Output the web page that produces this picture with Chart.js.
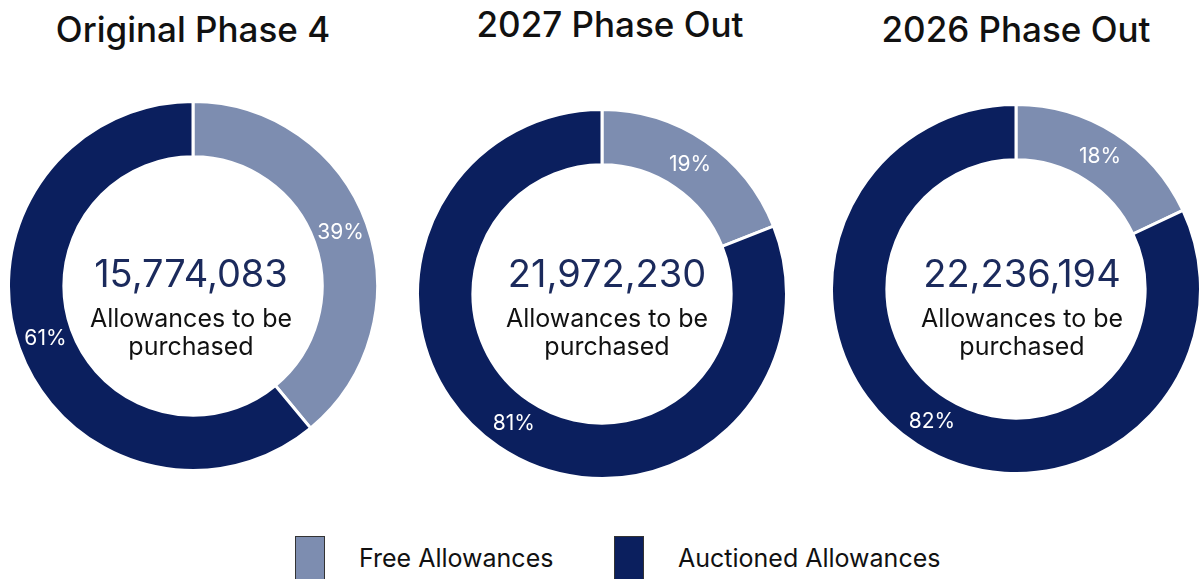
<!DOCTYPE html>
<html>
<head>
<meta charset="utf-8">
<script src="https://cdn.jsdelivr.net/npm/chart.js@4.4.1/dist/chart.umd.min.js"></script>
<style>
  body { margin: 0; background: #fff; width: 1202px; height: 579px; overflow: hidden; position: relative; font-family: Inter, "Noto Sans", sans-serif; }
  .title { position: absolute; width: 400px; text-align: center; font-size: 35px; line-height: 35px; font-weight: 500; color: #111; }
  .donut { position: absolute; width: 372px; height: 372px; }
  .legend { position: absolute; top: 536px; display: flex; align-items: center; font-size: 25px; color: #111; }
  .legend span.box { display: inline-block; width: 28px; height: 42px; border: 1px solid #333; margin-right: 34px; }
</style>
</head>
<body>
<div id="titles"></div>
<canvas id="donut0" class="donut"></canvas>
<canvas id="donut1" class="donut"></canvas>
<canvas id="donut2" class="donut"></canvas>
<div id="legend"></div>
<script>
const titles = ['Original Phase 4', '2027 Phase Out', '2026 Phase Out'];
const categories = ['Free Allowances', 'Auctioned Allowances'];
const freeShare = [39, 19, 18];
const auctionedShare = [61, 81, 82];
const toPurchase = [15774083, 21972230, 22236194];
const centerLabel = ['Allowances to be', 'purchased'];
const colors = ['#7d8db0', '#0b1f5e'];

// page layout: donut centres, title tops, centre text offsets
const centers = [[193, 286], [602, 294], [1016, 289]];
const titleTop = [12, 7, 12];
const textShiftX = [-2, 5, 6];
const textBaseline = [287, 327, 355];

const centerText = {
  id: 'centerText',
  afterDatasetsDraw(chart, args, opts) {
    const ctx = chart.ctx;
    const meta = chart.getDatasetMeta(0);
    ctx.save();
    ctx.textAlign = 'center';
    ctx.textBaseline = 'middle';
    ctx.fillStyle = '#fff';
    ctx.font = '400 21px Inter';
    meta.data.forEach((arc, i) => {
      const p = arc.getCenterPoint();
      ctx.fillText(chart.data.datasets[0].data[i] + '%', p.x, p.y);
    });
    const cx = (chart.chartArea.left + chart.chartArea.right) / 2 + opts.shiftX;
    const cy = (chart.chartArea.top + chart.chartArea.bottom) / 2;
    const shift = opts.pageCenterY;
    ctx.textBaseline = 'alphabetic';
    ctx.fillStyle = '#1b2a5c';
    ctx.font = '400 38px Inter';
    ctx.fillText(opts.value.toLocaleString('en-US'), cx, cy + textBaseline[0] - shift);
    ctx.fillStyle = '#111';
    ctx.font = '400 25px Inter';
    ctx.fillText(centerLabel[0], cx, cy + textBaseline[1] - shift);
    ctx.fillText(centerLabel[1], cx, cy + textBaseline[2] - shift);
    ctx.restore();
  }
};

const titleBox = document.getElementById('titles');
titles.forEach((t, i) => {
  const d = document.createElement('div');
  d.className = 'title';
  d.textContent = t;
  d.style.left = (centers[i][0] - 200 + (i === 1 ? 8 : 0)) + 'px';
  d.style.top = titleTop[i] + 'px';
  titleBox.appendChild(d);

  const canvas = document.getElementById('donut' + i);
  canvas.style.left = (centers[i][0] - 186) + 'px';
  canvas.style.top = (centers[i][1] - 186) + 'px';

  new Chart(canvas, {
    type: 'doughnut',
    data: {
      labels: categories,
      datasets: [{
        data: [freeShare[i], auctionedShare[i]],
        backgroundColor: colors,
        borderColor: '#fff',
        borderWidth: 3
      }]
    },
    options: {
      responsive: false,
      animation: false,
      cutout: '70%',
      layout: { padding: 0 },
      plugins: {
        legend: { display: false },
        tooltip: { enabled: false },
        centerText: { value: toPurchase[i], pageCenterY: centers[i][1], shiftX: textShiftX[i] }
      }
    },
    plugins: [centerText]
  });
});

const legend = document.getElementById('legend');
const legendLeft = [295, 614];
categories.forEach((c, i) => {
  const item = document.createElement('div');
  item.className = 'legend';
  item.style.left = legendLeft[i] + 'px';
  const box = document.createElement('span');
  box.className = 'box';
  box.style.background = colors[i];
  item.appendChild(box);
  item.appendChild(document.createTextNode(c));
  legend.appendChild(item);
});
</script>
</body>
</html>
